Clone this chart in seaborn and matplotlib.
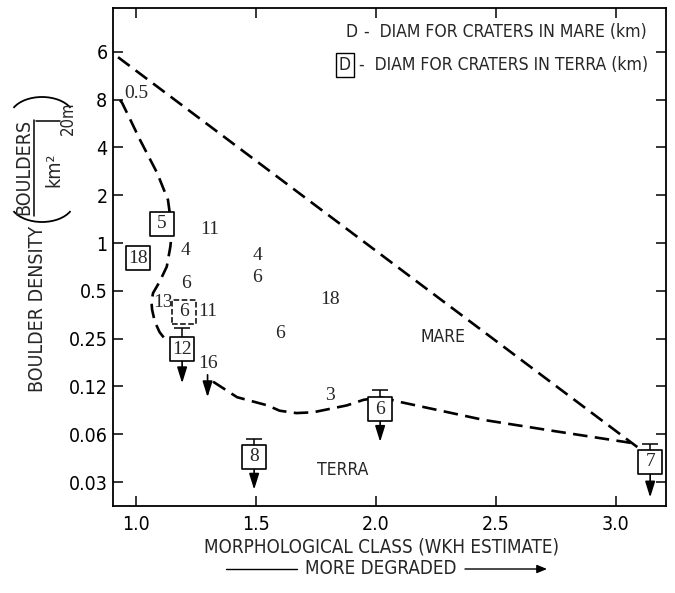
import numpy as np
import pandas as pd
import matplotlib
matplotlib.use("Agg")
import matplotlib.pyplot as plt
import seaborn as sns
from matplotlib.patches import Arc, FancyArrowPatch
from matplotlib.lines import Line2D
from matplotlib import font_manager as fm

# ---------------- data ----------------
# craters in mare (plain numbers = diameter km)
mare_x = [1.005, 1.31, 1.21, 1.506, 1.506, 1.21, 1.81, 1.115, 1.30, 1.60, 1.30, 1.81]
mare_y = [8.8, 1.21, 0.90, 0.83, 0.61, 0.56, 0.44, 0.42, 0.37, 0.27, 0.175, 0.11]
mare_labels = ["0.5", "11", "4", "4", "6", "6", "18", "13", "11", "6", "16", "3"]

# craters in terra (boxed numbers)
terra_x = [1.11, 1.01, 1.20, 1.194, 1.494, 2.019, 3.144]
terra_y = [1.32, 0.80, 0.37, 0.215, 0.045, 0.090, 0.042]
terra_labels = ["5", "18", "6", "12", "8", "6", "7"]
terra_dashed = [False, False, True, False, False, False, False]

# upper-limit markers for terra craters (cap above, arrow below)
limit_x = [1.194, 1.494, 2.019, 3.144]
limit_y = [0.215, 0.045, 0.090, 0.042]
limit_cap = [0.292, 0.058, 0.119, 0.054]
limit_arrow = [0.131, 0.028, 0.056, 0.025]

# upper-limit arrow for mare crater "16"
mare_limit_x = [1.30]
mare_limit_top = [0.148]
mare_limit_arrow = [0.107]

# boundary lines
mare_bound_x = [0.927, 3.09]
mare_bound_y = [14.8, 0.052]
terra_upper_x = [0.935, 0.944, 0.98, 1.019, 1.09, 1.135, 1.152, 1.145, 1.13, 1.10, 1.073, 1.066, 1.069, 1.08, 1.10, 1.135]
terra_upper_y = [7.95, 7.63, 5.9, 4.45, 2.76, 1.87, 1.21, 0.95, 0.71, 0.57, 0.485, 0.43, 0.38, 0.32, 0.275, 0.235]
terra_lower_x = [1.323, 1.423, 1.55, 1.60, 1.67, 1.74, 1.88, 1.95, 2.02, 2.10, 2.45, 2.73, 3.07, 3.09]
terra_lower_y = [0.134, 0.107, 0.095, 0.088, 0.085, 0.086, 0.095, 0.103, 0.107, 0.100, 0.077, 0.066, 0.055, 0.052]

y_ticks = [2.0 ** k for k in range(-5, 5)]
y_tick_labels = ["0.03", "0.06", "0.12", "0.25", "0.5", "1", "2", "4", "8", "6"]
x_ticks = [1.0, 1.5, 2.0, 2.5, 3.0]
x_tick_labels = ["1.0", "1.5", "2.0", "2.5", "3.0"]

# ---------------- style ----------------
sns.set_theme(style="ticks")
names = {f.name for f in fm.fontManager.ttflist}
if "Liberation Sans Narrow" in names:
    COND = dict(family="Liberation Sans Narrow")
else:
    COND = dict(family="DejaVu Sans", stretch="condensed")
SERIF = dict(family=["Liberation Serif", "DejaVu Serif"])
plt.rcParams["font.family"] = [COND["family"], "DejaVu Sans"]

W, H = 675, 593
fig = plt.figure(figsize=(W / 100, H / 100), dpi=100)
fig.patch.set_facecolor("white")


def fx(x):
    return x / W


def fy(y):
    return 1 - y / H


ax = fig.add_axes([fx(113), fy(506), (666 - 113) / W, (506 - 8) / H])
ax.set_facecolor("white")
ax.set_yscale("log", base=2)
ax.set_xlim(0.906, 3.21)
ax.set_ylim(0.0221, 30.2)

for s in ax.spines.values():
    s.set_linewidth(1.3)
    s.set_color("black")

ax.set_yticks(y_ticks)
ax.set_yticklabels(y_tick_labels)
ax.set_xticks(x_ticks)
ax.set_xticklabels(x_tick_labels)
ax.minorticks_off()
ax.tick_params(direction="in", length=7, width=1.1, color="black",
               top=True, right=True, labelsize=14, labelcolor="black")
ax.tick_params(axis="x", pad=6.5)
ax.tick_params(axis="y", pad=4)
for lab in ax.get_xticklabels() + ax.get_yticklabels():
    lab.set_fontfamily(COND["family"])
    if "stretch" in COND:
        lab.set_fontstretch(COND["stretch"])

# boundary lines
dash = (0, (5.5, 2.8))
for bx, by in [(mare_bound_x, mare_bound_y), (terra_upper_x, terra_upper_y), (terra_lower_x, terra_lower_y)]:
    sns.lineplot(data=pd.DataFrame({"x": bx, "y": by}), x="x", y="y", ax=ax,
                 sort=False, estimator=None, color="black", lw=1.9,
                 linestyle=dash, zorder=2)

# upper-limit caps and arrows
ly = np.array(limit_y)
ax.errorbar(limit_x, limit_y, yerr=[np.zeros(len(ly)), np.array(limit_cap) - ly],
            fmt="none", ecolor="black", elinewidth=1.1, capsize=6, capthick=1.1, zorder=3)
arrow_props = dict(arrowstyle="-|>,head_length=0.8,head_width=0.25",
                   color="black", lw=1.2, shrinkA=0, shrinkB=0)
for x, y0, y1 in zip(limit_x, limit_y, limit_arrow):
    ax.annotate("", xy=(x, y1), xytext=(x, y0), arrowprops=arrow_props, zorder=3)
for x, y0, y1 in zip(mare_limit_x, mare_limit_top, mare_limit_arrow):
    ax.annotate("", xy=(x, y1), xytext=(x, y0), arrowprops=arrow_props, zorder=3)

# boxes for terra craters
tdf = pd.DataFrame({"x": terra_x, "y": terra_y, "dashed": terra_dashed})
solid = tdf[~tdf["dashed"]]
dashed = tdf[tdf["dashed"]]
sns.scatterplot(data=solid, x="x", y="y", ax=ax, marker="s", s=300,
                color="white", edgecolor="black", linewidth=1.2, zorder=5, legend=False)
ax.scatter(dashed["x"], dashed["y"], marker="s", s=300, facecolor="white",
           edgecolor="black", linewidth=1.1, linestyles="--", zorder=5)
for x, y, t in zip(terra_x, terra_y, terra_labels):
    ax.text(x, y, t, ha="center", va="center", fontsize=14, zorder=6, **SERIF)

for x, y, t in zip(mare_x, mare_y, mare_labels):
    ax.text(x, y, t, ha="center", va="center", fontsize=14, zorder=6, **SERIF)

ax.set_xlabel("")
ax.set_ylabel("")

# region labels
ax.text(2.28, 0.255, "MARE", ha="center", va="center", fontsize=12.6, **COND)
ax.text(1.865, 0.037, "TERRA", ha="center", va="center", fontsize=12.6, **COND)

# legend text (right-aligned, "D" placed left of each line)
leg1 = fig.text(fx(647), fy(32), "-  DIAM FOR CRATERS IN MARE (km)", ha="right", va="center",
                fontsize=12.6, **COND)
leg2 = fig.text(fx(648), fy(65), "-  DIAM FOR CRATERS IN TERRA (km)", ha="right", va="center",
                fontsize=12.6, **COND)
fig.canvas.draw()
r = fig.canvas.get_renderer()
b1 = leg1.get_window_extent(r)
b2 = leg2.get_window_extent(r)
fig.text((b1.x0 - 7) / W, fy(32), "D", ha="right", va="center", fontsize=12.6, **COND)
fig.text((b2.x0 - 8) / W, fy(65), "D", ha="right", va="center", fontsize=12.6,
         bbox=dict(boxstyle="square,pad=0.18", fc="white", ec="black", lw=1.0), **COND)

# x-axis label
fig.text(fx(381), fy(547), "MORPHOLOGICAL CLASS (WKH ESTIMATE)", ha="center", va="center",
         fontsize=13.5, **COND)
fig.text(fx(381), fy(569), "MORE DEGRADED", ha="center", va="center", fontsize=13.5, **COND)
fig.add_artist(Line2D([fx(226), fx(297)], [fy(569), fy(569)], color="black", lw=1.0,
                      transform=fig.transFigure))
fig.add_artist(FancyArrowPatch((fx(465), fy(569)), (fx(547), fy(569)),
               arrowstyle="-|>,head_length=6,head_width=2.5", color="black", lw=1.0,
               transform=fig.transFigure, shrinkA=0, shrinkB=0))

# y-axis label
fig.text(fx(38), fy(309), "BOULDER DENSITY", rotation=90, ha="center", va="center",
         fontsize=14, **COND)
fig.text(fx(24), fy(167), "BOULDERS", rotation=90, ha="center", va="center", fontsize=14, **COND)
fig.add_artist(Line2D([fx(34), fx(34)], [fy(120), fy(216)], color="black", lw=1.1,
                      transform=fig.transFigure))
fig.text(fx(54), fy(170), "km²", rotation=90, ha="center", va="center", fontsize=14, **COND)
fig.add_artist(Line2D([fx(36), fx(60)], [fy(121), fy(121)], color="black", lw=1.1,
                      transform=fig.transFigure))
fig.text(fx(68), fy(118), "20m", rotation=90, ha="center", va="center", fontsize=12, **COND)
fig.add_artist(Arc((fx(42), (H - 222 + 20) / H), 64 / W, 40 / H, theta1=200, theta2=340,
                   color="black", lw=1.3, transform=fig.transFigure))
fig.add_artist(Arc((fx(42), (H - 97 - 20) / H), 64 / W, 40 / H, theta1=20, theta2=160,
                   color="black", lw=1.3, transform=fig.transFigure))

fig.savefig("out.png", dpi=100, facecolor="white")
